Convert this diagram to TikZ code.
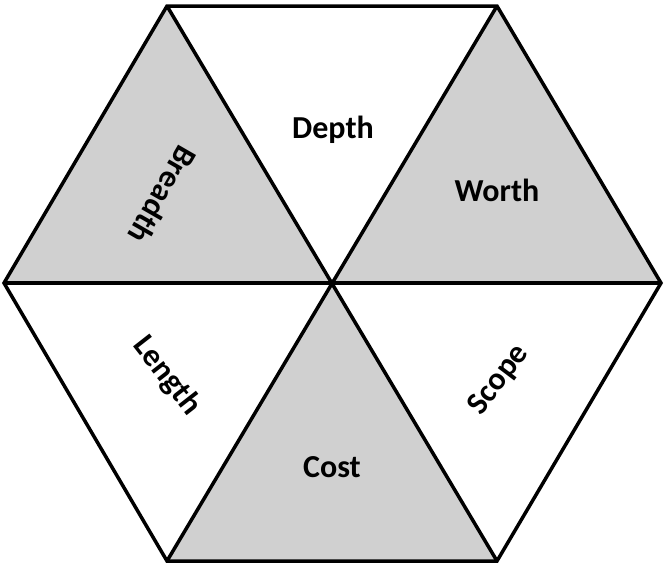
\documentclass[tikz,border=0pt]{standalone}
\usepackage{fontspec}
\setmainfont{Carlito}
\definecolor{tri}{RGB}{208,208,208}
\begin{document}
\begin{tikzpicture}[x=1pt,y=-1pt,
  edge/.style={line width=3.5pt,line join=miter},
  lbl/.style={font=\bfseries\fontsize{32}{38}\selectfont,inner sep=0pt}]
\useasboundingbox (0,0) rectangle (664,565);
\coordinate (O) at (332,283);
\coordinate (TL) at (167,6);
\coordinate (TR) at (497,6);
\coordinate (R) at (661,283);
\coordinate (BR) at (497,561);
\coordinate (BL) at (167,561);
\coordinate (L) at (4,283);
\fill[tri] (TL) -- (L) -- (O) -- cycle;
\fill[tri] (TR) -- (R) -- (O) -- cycle;
\fill[tri] (BL) -- (BR) -- (O) -- cycle;
\draw[edge] (TL) -- (TR) -- (R) -- (BR) -- (BL) -- (L) -- cycle;
\draw[edge] (L) -- (R);
\draw[edge] (TL) -- (BR);
\draw[edge] (TR) -- (BL);
\node[lbl] (depth) at (333,130) {Depth};
\node[lbl] (worth) at (497,190) {Worth};
\node[lbl,rotate=53] (scope) at (499,380) {Scope};
\node[lbl] (cost) at (332,467) {Cost};
\node[lbl,rotate=-52] (length) at (167,376) {Length};
\node[lbl,rotate=-120] (breadth) at (163,195) {Breadth};
\end{tikzpicture}
\end{document}
